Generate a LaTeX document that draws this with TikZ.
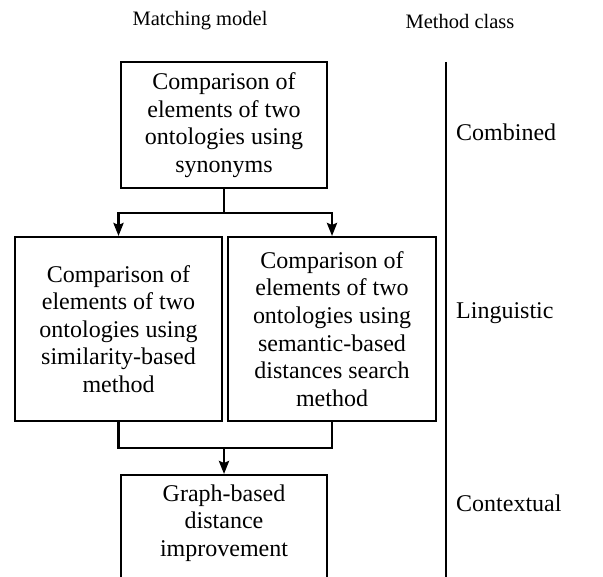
\documentclass[tikz,border=0pt]{standalone}
\usepackage{fontspec}
\setmainfont{Liberation Serif}
\usetikzlibrary{arrows.meta}
\begin{document}
\begin{tikzpicture}[x=1pt,y=-1pt,
  boxfont/.style={font=\rmfamily\fontsize{24}{27.6}\selectfont},
  box/.style={draw, line width=2pt, align=center, inner sep=0pt, boxfont},
  conn/.style={line width=2.6pt},
  flow/.style={conn, -{Stealth[length=13pt,width=10pt,inset=2pt]}},
  classlabel/.style={anchor=west, inner sep=0pt, boxfont},
  header/.style={inner sep=0pt, font=\rmfamily\fontsize{20.5}{24}\selectfont}]
  \clip (0,0) rectangle (603,577);
  \fill[white] (0,0) rectangle (603,577);

  % column headers
  \node[header] (hmodel) at (200,21) {Matching model};
  \node[header] (hclass) at (460,21) {Method class};

  % matching models
  \node[box, minimum width=206pt, minimum height=126pt] (syn) at (224,125)
    {Comparison of\\elements of two\\ontologies using\\synonyms};
  \node[box, minimum width=207pt, minimum height=184pt] (sim) at (118.5,329)
    {Comparison of\\elements of two\\ontologies using\\similarity-based\\method};
  \node[box, minimum width=208pt, minimum height=184pt] (sem) at (332,329)
    {Comparison of\\elements of two\\ontologies using\\semantic-based\\distances search\\method};
  \node[box, minimum width=206pt, minimum height=140pt, anchor=north] (graph) at (224,474) {};
  \node[inner sep=0pt, align=center, boxfont] (graphtext) at (224,523)
    {Graph-based\\distance\\improvement};

  % connectors
  \coordinate (split) at (224,213);
  \coordinate (merge) at (224,448);
  \draw[conn] (syn.south) -- (split);
  \draw[flow] (split) -| (sim.north);
  \draw[flow] (split) -| (sem.north);
  \draw[conn] (sim.south) -- (sim.south |- merge) -- (sem.south |- merge) -- (sem.south);
  \draw[flow] (merge) -- (graph.north);

  % method classes
  \coordinate (sepTop) at (446,62);
  \coordinate (sepBot) at (446,580);
  \draw[line width=2pt] (sepTop) -- (sepBot);
  \node[classlabel] (combined) at (456,132) {Combined};
  \node[classlabel] (linguistic) at (456,313) {Linguistic};
  \node[classlabel] (contextual) at (456,503) {Contextual};
\end{tikzpicture}
\end{document}
